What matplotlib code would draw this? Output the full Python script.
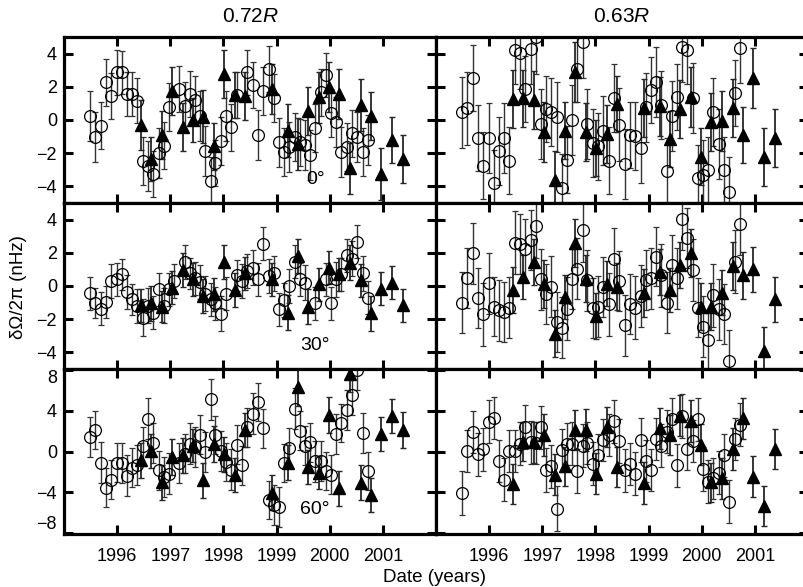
import numpy as np
import matplotlib
matplotlib.use("Agg")
from matplotlib import pyplot as plt

plt.rcParams['font.family'] = ['Liberation Sans', 'DejaVu Sans']
plt.rcParams['mathtext.fontset'] = 'custom'
plt.rcParams['mathtext.rm'] = 'Liberation Sans'
plt.rcParams['mathtext.it'] = 'Liberation Sans:italic'

nan = np.nan

# ─── Observation dates ─────────────────────────────────────────
circ_dates = [1995.48, 1995.58, 1995.69, 1995.79, 1995.89, 1995.99, 1996.09, 1996.19, 1996.28,
              1996.38, 1996.48, 1996.58, 1996.68, 1996.78, 1996.88, 1996.97, 1997.07, 1997.17,
              1997.27, 1997.37, 1997.46, 1997.56, 1997.66, 1997.76, 1997.85, 1997.95, 1998.05,
              1998.15, 1998.25, 1998.35, 1998.45, 1998.55, 1998.65, 1998.75, 1998.85, 1998.95,
              1999.04, 1999.14, 1999.24, 1999.34, 1999.44, 1999.54, 1999.63, 1999.73, 1999.83,
              1999.93, 2000.03, 2000.12, 2000.22, 2000.32, 2000.42, 2000.52, 2000.62, 2000.72]
tri_dates = [1996.44, 1996.64, 1996.84, 1997.03, 1997.23, 1997.42, 1997.62, 1997.82,
             1998.01, 1998.21, 1998.41, 1998.91, 1999.21, 1999.40, 1999.60, 1999.79,
             1999.99, 2000.18, 2000.38, 2000.58, 2000.78, 2000.97, 2001.17, 2001.37]

# ─── 0.72R, latitude 0 ─────────────────────────────────────────
r72_eq_circ = [0.26, -1.0, -0.34, 2.27, 1.46, 2.87, 2.87, 1.57, 1.57,
               1.16, -2.49, -2.75, -3.25, -1.99, -1.55, 0.76, nan, 1.87,
               0.82, 1.57, 1.2, 0.26, -1.85, -3.65, -2.59, -1.29, 0.26,
               -0.44, 1.5, nan, 2.87, 2.1, -0.9, 1.77, 3.07, 1.3,
               -1.35, -1.95, -1.65, -1.04, -1.35, -1.5, -2.1, -0.48, 1.67,
               2.71, 0.42, -0.1, -1.91, -1.65, -0.8, -1.04, -1.91, -1.2]
r72_eq_circ_err = [1.5, 1.5, 1.4, 1.4, 1.4, 1.35, 1.3, 1.3, 1.35,
                   1.35, 1.45, 1.5, 1.4, 1.5, 1.4, 1.45, 1.4, 1.4,
                   1.45, 1.4, 1.45, 1.5, 1.5, 1.45, 1.4, 1.45, 1.5,
                   1.4, 1.4, 1.4, 1.35, 1.4, 1.5, 1.45, 1.4, 1.45,
                   1.5, 1.45, 1.5, 1.45, 1.4, 1.5, 1.5, 1.45, 1.4,
                   1.35, 1.45, 1.5, 1.5, 1.45, 1.4, 1.5, 1.45, 1.5]
r72_eq_tri = [-0.28, -2.35, -0.9, 1.77, -0.4, 0.0, 0.2, -1.59,
              2.77, 1.5, 1.45, 1.87, -0.64, -1.45, 0.56, 1.37,
              1.97, 1.57, -2.91, 0.9, 0.26, -3.25, -1.2, -2.35]
r72_eq_tri_err = [1.5, 1.3, 1.45, 1.45, 1.45, 1.3, 1.6, 1.4,
                  1.45, 1.4, 1.45, 1.5, 1.6, 1.55, 1.45, 1.55,
                  1.5, 1.5, 1.55, 1.55, 1.45, 1.55, 1.4, 1.45]

# ─── 0.63R, latitude 0 ─────────────────────────────────────────
r63_eq_circ = [0.46, 0.72, 2.53, -1.08, -2.75, -1.08, -3.8, -1.85, -1.1,
               -2.45, 4.24, 4.04, 1.87, 4.28, 4.98, -0.24, 0.66, 0.5,
               0.16, -4.12, -2.39, 0.02, 3.07, 4.72, -0.24, -1.41, -1.59,
               -0.64, -2.45, 1.3, -0.28, -2.65, -0.9, -0.95, -1.7, 0.76,
               1.81, 2.27, 0.92, -3.09, 0.22, 1.37, 4.38, 4.24, 1.33,
               -3.51, -3.29, -3.01, 0.5, -1.45, -3.01, -4.32, 1.61, 4.34]
r63_eq_circ_err = [2.15, 2.2, 2.0, 2.0, 2.0, 2.1, 2.0, 2.05, 2.1,
                   2.0, 2.1, 2.2, 2.0, 2.1, 2.2, 2.1, 2.0, 2.05,
                   2.1, 2.05, 2.0, 2.1, 2.0, 2.2, 2.1, 2.05, 2.0,
                   2.1, 2.0, 2.05, 2.2, 2.1, 2.0, 2.05, 2.1, 2.1,
                   2.0, 2.1, 2.05, 2.0, 2.1, 2.0, 2.1, 2.05, 2.1,
                   2.0, 2.1, 2.0, 2.05, 2.1, 2.0, 2.1, 2.0, 2.1]
r63_eq_tri = [1.27, 1.3, 1.2, -0.74, -3.6, -0.64, 2.87, -0.74,
              -1.7, -0.84, 0.96, 0.72, 0.82, -1.14, 0.66, 1.37,
              -2.21, -0.1, -0.04, 0.7, -0.9, 2.51, -2.21, -1.08]
r63_eq_tri_err = [1.75, 1.7, 1.75, 1.8, 1.75, 1.7, 1.8, 1.75,
                  1.7, 1.75, 1.7, 1.75, 1.8, 1.7, 1.75, 1.8,
                  1.7, 1.75, 1.8, 1.75, 1.7, 1.8, 1.75, 1.75]

# ─── 0.72R, latitude 30 ────────────────────────────────────────
r72_30_circ = [-0.44, -1.04, -1.36, -0.96, 0.3, 0.4, 0.7, -0.36, -0.8,
               -1.2, -1.9, -1.2, -1.6, -0.2, -1.2, -0.2, 0.3, nan,
               1.45, 0.76, 0.46, 0.24, -0.46, -0.8, -1.04, -1.66, -0.46,
               nan, 0.64, 0.3, 0.9, 1.1, 0.4, 2.55, 0.6, 0.76,
               -1.4, -0.84, 0.0, 1.47, 0.4, 0.2, nan, -1.04, nan,
               0.4, -1.04, 0.4, 0.7, 1.85, 1.65, 2.67, 0.76, -0.7]
r72_30_circ_err = [1.0, 0.9, 1.0, 0.95, 1.0, 1.0, 0.95, 1.0, 0.95,
                   1.0, 1.1, 1.05, 1.0, 1.0, 1.05, 1.0, 1.0, 1.0,
                   1.0, 0.95, 1.0, 1.0, 1.05, 1.0, 1.0, 1.05, 1.0,
                   1.0, 0.95, 1.0, 1.0, 1.05, 1.0, 1.0, 1.0, 1.05,
                   1.0, 1.0, 1.05, 1.0, 1.0, 1.05, 1.0, 1.0, 1.0,
                   1.0, 1.0, 1.05, 1.0, 1.0, 1.05, 1.0, 1.05, 1.0]
r72_30_tri = [-1.16, -1.04, -1.24, -0.1, 0.96, 0.4, -0.6, -0.5,
              1.45, -0.24, 0.76, 0.4, -1.6, 1.81, -1.24, 0.1,
              1.1, 0.7, 1.41, 0.34, -1.64, -0.16, 0.2, -1.16]
r72_30_tri_err = [1.0, 1.05, 0.95, 1.0, 1.0, 1.0, 1.05, 1.0,
                  1.05, 1.0, 1.0, 1.0, 1.05, 1.0, 1.05, 1.0,
                  1.0, 1.0, 1.05, 1.0, 1.05, 1.0, 1.0, 1.0]

# ─── 0.63R, latitude 30 ────────────────────────────────────────
r63_30_circ = [-1.0, 0.46, 1.97, -0.74, -1.7, 0.16, -1.24, -1.46, -1.56,
               -1.3, 2.61, 2.51, 2.21, 2.77, 3.61, 0.4, -0.46, -0.04,
               -2.17, -2.51, -1.36, 0.4, 1.05, 3.36, 0.34, -1.34, -1.24,
               -0.04, -1.1, 1.65, 0.3, -2.37, -1.1, -1.3, -0.6, 0.34,
               0.46, 1.77, 0.66, -1.0, 1.25, 0.46, 4.06, 2.91, 0.96,
               -1.3, -2.45, -3.27, -0.56, -1.4, -1.7, -4.52, 1.45, 3.72]
r63_30_circ_err = [1.85, 1.8, 1.85, 1.8, 1.9, 1.85, 1.8, 1.85, 1.8,
                   1.85, 1.9, 1.8, 1.85, 1.8, 1.9, 1.85, 1.8, 1.85,
                   1.8, 1.85, 1.9, 1.8, 1.85, 1.9, 1.85, 1.8, 1.85,
                   1.8, 1.9, 1.85, 1.8, 1.85, 1.8, 1.9, 1.85, 1.8,
                   1.85, 1.8, 1.9, 1.85, 1.8, 1.85, 1.9, 1.8, 1.85,
                   1.8, 1.85, 1.8, 1.9, 1.85, 1.8, 1.85, 1.9, 1.85]
r63_30_tri = [-0.24, 0.54, 1.45, 0.1, -2.87, -0.66, 2.61, 0.44,
              -1.81, 0.14, -0.04, -0.44, 0.84, -0.24, 1.25, 1.97,
              -1.24, -1.24, -0.4, 1.2, 0.64, 1.0, -3.92, -0.8]
r63_30_tri_err = [1.4, 1.35, 1.4, 1.45, 1.4, 1.35, 1.45, 1.4,
                  1.4, 1.35, 1.4, 1.45, 1.4, 1.35, 1.4, 1.45,
                  1.4, 1.4, 1.35, 1.45, 1.4, 1.35, 1.45, 1.35]

# ─── 0.72R, latitude 60 ────────────────────────────────────────
r72_60_circ = [1.4, 2.1, -1.1, -3.55, -2.75, -1.1, -1.1, -2.39, -1.58,
               -1.36, 0.52, 3.24, 0.84, -1.84, -2.49, -2.17, nan, -1.1,
               -0.22, 0.75, 0.42, 1.65, -0.06, 5.12, 1.62, 0.04, -1.03,
               -1.78, 0.68, -1.36, 2.37, 3.73, 4.86, 2.27, -4.76, -5.24,
               -5.47, -1.13, 0.33, 4.21, 2.04, 0.58, 0.91, -0.97, -0.94,
               -1.9, -2.26, 1.72, 2.79, 4.05, 5.53, 8.03, 1.82, -1.9]
r72_60_circ_err = [1.95, 1.9, 2.0, 1.9, 1.95, 1.9, 1.95, 2.0, 1.9,
                   1.95, 1.9, 2.0, 1.95, 1.9, 1.95, 2.0, 1.9, 1.95,
                   1.9, 2.0, 1.95, 1.9, 1.95, 2.0, 1.9, 1.95, 1.9,
                   2.0, 1.95, 1.9, 1.95, 2.0, 1.9, 1.95, 1.9, 2.0,
                   1.95, 1.9, 1.95, 2.0, 1.9, 1.95, 1.9, 2.0, 1.95,
                   1.9, 1.95, 2.0, 1.9, 1.95, 1.9, 2.0, 1.95, 1.9]
r72_60_tri = [-0.87, 0.04, -3.04, -0.55, -0.39, 0.58, -2.82, 0.75,
              -0.29, -2.33, 2.1, -4.04, -1.1, 6.31, -1.52, -2.07,
              3.59, -3.62, 7.61, -3.07, -4.27, 1.72, 3.5, 2.1]
r72_60_tri_err = [1.7, 1.65, 1.7, 1.75, 1.7, 1.65, 1.7, 1.75,
                  1.7, 1.65, 1.7, 1.75, 1.7, 1.8, 1.7, 1.65,
                  1.75, 1.7, 1.8, 1.7, 1.65, 1.7, 1.7, 1.75]

# ─── 0.63R, latitude 60 ────────────────────────────────────────
r63_60_circ = [-4.04, 0.04, 1.88, -0.29, 0.2, 2.91, 3.27, -0.93, -2.75,
               0.04, 0.04, 0.75, 2.37, 0.91, 0.84, 2.37, -1.84, -1.46,
               -5.63, 0.1, 0.75, 0.75, -1.9, 0.58, 0.84, -1.19, -0.39,
               1.14, 1.62, 2.95, 1.01, -1.84, -1.19, -2.17, 1.14, -0.93,
               -1.84, 1.23, 0.58, 1.94, 3.17, -1.36, 3.5, 0.26, 1.01,
               3.17, -1.68, -2.97, -2.65, -2.07, -0.39, -4.91, 1.23, 2.62]
r63_60_circ_err = [2.15, 2.1, 2.05, 2.1, 2.15, 2.1, 2.05, 2.1, 2.15,
                   2.1, 2.05, 2.1, 2.15, 2.1, 2.05, 2.1, 2.15, 2.1,
                   2.2, 2.1, 2.05, 2.1, 2.15, 2.1, 2.05, 2.1, 2.15,
                   2.1, 2.05, 2.1, 2.15, 2.1, 2.05, 2.1, 2.15, 2.1,
                   2.05, 2.1, 2.15, 2.1, 2.05, 2.1, 2.15, 2.1, 2.05,
                   2.1, 2.15, 2.1, 2.05, 2.1, 2.15, 2.1, 2.05, 2.1]
r63_60_tri = [-3.2, 0.97, 0.91, 1.62, -2.26, -1.46, 2.1, 2.1,
              -2.17, 2.43, -1.52, -3.07, 2.27, 1.62, 3.5, 3.01,
              0.68, -3.04, -2.65, 0.26, 3.27, -2.49, -5.34, 0.26]
r63_60_tri_err = [2.0, 1.95, 2.0, 2.05, 2.0, 1.95, 2.0, 2.05,
                  2.0, 1.95, 2.0, 2.05, 2.0, 1.95, 2.0, 2.05,
                  2.0, 1.95, 2.0, 2.05, 2.0, 2.0, 2.0, 1.95]

rows = [
    [(r72_eq_circ, r72_eq_circ_err, r72_eq_tri, r72_eq_tri_err),
     (r63_eq_circ, r63_eq_circ_err, r63_eq_tri, r63_eq_tri_err)],
    [(r72_30_circ, r72_30_circ_err, r72_30_tri, r72_30_tri_err),
     (r63_30_circ, r63_30_circ_err, r63_30_tri, r63_30_tri_err)],
    [(r72_60_circ, r72_60_circ_err, r72_60_tri, r72_60_tri_err),
     (r63_60_circ, r63_60_circ_err, r63_60_tri, r63_60_tri_err)],
]
col_titles = ['0.72$R$', '0.63$R$']
lat_labels = ['0°', '30°', '60°']
year_ticks = [1996, 1997, 1998, 1999, 2000, 2001]
ylims = [(-5, 5), (-5, 5), (-8.1, 8.1)]
yticks = [[-4, -2, 0, 2, 4], [-4, -2, 0, 2, 4], [-8, -4, 0, 4, 8]]

# ─── Layout (figure fractions) ─────────────────────────────────
W, H = 804, 587
fig = plt.figure(figsize=(W / 100, H / 100), dpi=100)
col_left = [64 / W, 436 / W]
col_w = 372 / W
row_top = [37, 203, 369]
row_bot = [203, 369, 534]

for r in range(3):
    for c in range(2):
        circ, circ_err, tri, tri_err = rows[r][c]
        ax = fig.add_axes([col_left[c], 1 - row_bot[r] / H, col_w,
                           (row_bot[r] - row_top[r]) / H])
        ax.errorbar(circ_dates, circ, yerr=circ_err, fmt='o', ms=8.5,
                    mfc='none', mec='black', mew=0.9, ecolor='0.2',
                    elinewidth=1.0, capsize=2.5, capthick=1.0)
        ax.errorbar(tri_dates, tri, yerr=tri_err, fmt='^', ms=8.5,
                    mfc='black', mec='black', ecolor='0.15',
                    elinewidth=1.3, capsize=2.5, capthick=1.0)
        ax.set_xlim(1995.0, 2002.0)
        ax.set_ylim(*ylims[r])
        ax.set_xticks(year_ticks)
        ax.set_yticks(yticks[r])
        ax.tick_params(direction='in', length=6.5, width=2.2, top=True, right=True,
                       labelsize=13, pad=5,
                       labelleft=(c == 0), labelbottom=(r == 2))
        ax.tick_params(axis='x', pad=10)
        for sp in ax.spines.values():
            sp.set_linewidth(2.3)
        if c == 0:
            ax.text(0.675, 0.14 if r < 2 else 0.15, lat_labels[r],
                    transform=ax.transAxes, ha='center', va='center', fontsize=14)
            if r == 2:
                labels = ax.get_yticklabels()
                labels[0].set_va('bottom')
                labels[-1].set_va('top')
        if r == 0:
            fig.text(col_left[c] + col_w / 2, 1 - 17 / H, col_titles[c],
                     ha='center', va='center', fontsize=15)

fig.text(19 / W, 1 - 287 / H, 'δΩ/2π (nHz)', rotation=90,
         ha='center', va='center', fontsize=13.5)
fig.text(435 / W, 1 - 577 / H, 'Date (years)', ha='center', va='center', fontsize=13.5)

plt.savefig('out.png', dpi=100)
